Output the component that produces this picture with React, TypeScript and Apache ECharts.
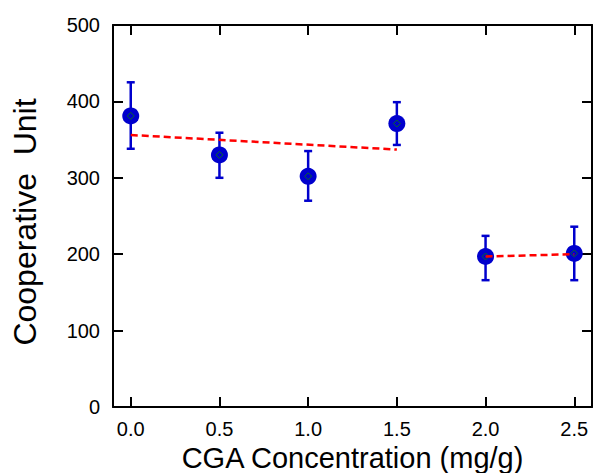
import React, { useEffect, useRef } from "react";
import * as echarts from "echarts";

const concentrations = [0.0, 0.5, 1.0, 1.5, 2.0, 2.5];
const meanValues = [381, 330, 302, 371, 197, 201];
const errLow = [338, 300, 270, 343, 166, 166];
const errHigh = [425, 359, 335, 399, 224, 236];
const fitLine1 = [[0, 356], [1.5, 337]];
const fitLine2 = [[2.0, 197], [2.5, 200]];
const xTicks = [0, 0.5, 1.0, 1.5, 2.0, 2.5];

const FONT = "'Liberation Sans', Arial, Helvetica, sans-serif";
const BLUE = "#0000CD";

export default function App() {
  const ref = useRef<HTMLDivElement>(null);
  useEffect(() => {
    document.body.style.margin = "0";
    if (!ref.current) return;
    const chart = echarts.init(ref.current, undefined, { renderer: "svg" });
    const points = concentrations.map((x, i) => [x, meanValues[i]]);
    const errData = concentrations.map((x, i) => [x, errLow[i], errHigh[i]]);
    const axisLine = { show: true, onZero: false, lineStyle: { color: "#000", width: 2 } };
    const tick = { show: true, inside: true, length: 10, lineStyle: { color: "#000", width: 2 } };
    chart.setOption({
      animation: false,
      backgroundColor: "#fff",
      grid: { left: 113, right: 3, top: 25, bottom: 66, containLabel: false, outerBoundsMode: "none" },
      xAxis: [
        {
          type: "value",
          position: "bottom",
          min: -0.1,
          max: 2.6,
          name: "CGA Concentration (mg/g)",
          nameLocation: "middle",
          nameGap: 31,
          nameTextStyle: { fontFamily: FONT, fontSize: 29, color: "#000" },
          axisLine,
          axisTick: { ...tick, customValues: xTicks },
          axisLabel: {
            customValues: xTicks,
            formatter: (v: number) => v.toFixed(1),
            fontFamily: FONT,
            fontSize: 20,
            color: "#000",
            margin: 12,
          },
          splitLine: { show: false },
        },
        {
          type: "value",
          position: "top",
          min: -0.1,
          max: 2.6,
          axisLine,
          axisTick: { ...tick, customValues: xTicks },
          axisLabel: { show: false, customValues: xTicks },
          splitLine: { show: false },
        },
      ],
      yAxis: [
        {
          type: "value",
          position: "left",
          min: 0,
          max: 500,
          interval: 100,
          name: "Cooperative  Unit",
          nameLocation: "middle",
          nameGap: 72,
          nameTextStyle: { fontFamily: FONT, fontSize: 32, color: "#000", padding: [0, 12, 0, 0] },
          axisLine,
          axisTick: tick,
          axisLabel: { fontFamily: FONT, fontSize: 20, color: "#000", margin: 13 },
          splitLine: { show: false },
        },
        {
          type: "value",
          position: "right",
          min: 0,
          max: 500,
          interval: 100,
          axisLine,
          axisTick: tick,
          axisLabel: { show: false },
          splitLine: { show: false },
        },
      ],
      series: [
        {
          type: "custom",
          xAxisIndex: 0,
          yAxisIndex: 0,
          z: 2,
          data: errData,
          renderItem: (params: any, api: any) => {
            const x = api.value(0);
            const top = api.coord([x, api.value(2)]);
            const bot = api.coord([x, api.value(1)]);
            const hw = 4;
            const style = { stroke: BLUE, lineWidth: 2.5 };
            return {
              type: "group",
              children: [
                { type: "line", shape: { x1: top[0], y1: top[1], x2: bot[0], y2: bot[1] }, style },
                { type: "line", shape: { x1: top[0] - hw, y1: top[1], x2: top[0] + hw, y2: top[1] }, style },
                { type: "line", shape: { x1: bot[0] - hw, y1: bot[1], x2: bot[0] + hw, y2: bot[1] }, style },
              ],
            };
          },
        },
        {
          type: "scatter",
          xAxisIndex: 0,
          yAxisIndex: 0,
          z: 3,
          symbol: "circle",
          symbolSize: 17,
          itemStyle: { color: BLUE, opacity: 1 },
          data: points,
        },
        {
          type: "scatter",
          xAxisIndex: 0,
          yAxisIndex: 0,
          z: 4,
          symbol: "diamond",
          symbolSize: 7,
          itemStyle: { color: "transparent", borderColor: "#0a6a2a", borderWidth: 1, opacity: 1 },
          data: points,
        },
        {
          type: "line",
          xAxisIndex: 0,
          yAxisIndex: 0,
          z: 5,
          symbol: "none",
          lineStyle: { color: "#FF0000", width: 2.5, type: [7, 4] },
          data: fitLine1,
        },
        {
          type: "line",
          xAxisIndex: 0,
          yAxisIndex: 0,
          z: 5,
          symbol: "none",
          lineStyle: { color: "#FF0000", width: 2.5, type: [7, 4] },
          data: fitLine2,
        },
      ],
    });
    return () => chart.dispose();
  }, []);
  return <div ref={ref} style={{ width: 595, height: 473 }} />;
}
